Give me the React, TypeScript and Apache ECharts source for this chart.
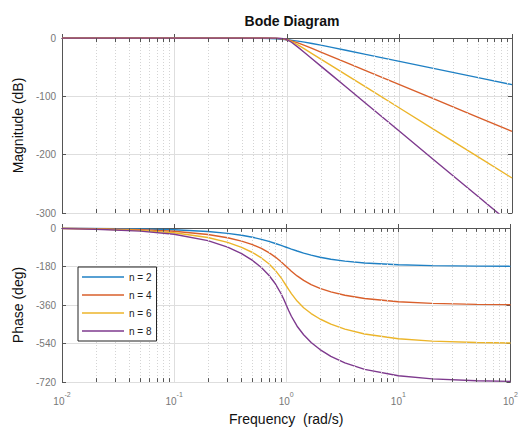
import React, { useEffect, useRef } from "react";
import * as echarts from "echarts";

// Frequencies (rad/s)
const freq = [0.01, 0.02, 0.05, 0.1, 0.2, 0.3, 0.4, 0.5, 0.6, 0.7, 0.8, 0.9, 0.95, 1, 1.053, 1.111, 1.25, 1.429, 1.667, 2, 2.5, 3.333, 5, 10, 20, 50, 100];

// Magnitude (dB)
const mag2 = [0, 0, 0, 0, -0.01, -0.03, -0.11, -0.26, -0.53, -0.93, -1.49, -2.19, -2.59, -3.01, -3.48, -4.02, -5.37, -7.13, -9.4, -12.3, -16.03, -20.95, -27.97, -40, -52.04, -67.96, -80];
const mag4 = [0, 0, 0, 0, 0, 0, 0, -0.02, -0.07, -0.24, -0.67, -1.56, -2.21, -3.01, -3.99, -5.22, -8.43, -12.64, -17.82, -24.1, -31.84, -41.83, -55.92, -80, -104.08, -135.92, -160];
const mag6 = [0, 0, 0, 0, 0, 0, 0, 0, -0.01, -0.06, -0.29, -1.08, -1.88, -3.01, -4.55, -6.57, -11.92, -18.65, -26.63, -36.12, -47.75, -62.75, -83.88, -120, -156.12, -203.88, -240];
const mag8 = [0, 0, 0, 0, 0, 0, 0, 0, 0, -0.01, -0.12, -0.74, -1.59, -3.01, -5.15, -8.08, -15.63, -24.8, -35.5, -48.16, -63.67, -83.66, -111.84, -160, -208.16, -271.84, -320];

// Phase (deg)
const ph2 = [-0.81, -1.62, -4.05, -8.13, -16.42, -24.99, -33.96, -43.31, -52.97, -62.74, -72.35, -81.51, -85.85, -90, -94.15, -98.49, -107.65, -117.26, -127.03, -136.69, -146.04, -155.01, -163.58, -171.87, -175.95, -178.38, -179.19];
const ph4 = [-1.5, -2.99, -7.49, -14.99, -30.11, -45.33, -61.38, -77.96, -95.66, -114.91, -135.86, -158.06, -169.18, -180, -190.82, -201.94, -224.14, -245.09, -264.34, -282.04, -298.62, -314.67, -329.89, -345.01, -352.51, -357.01, -358.5];
const ph6 = [-2.21, -4.43, -11.07, -22.17, -44.5, -67.16, -90.42, -114.52, -139.94, -167.47, -198.23, -233.08, -251.6, -270, -288.4, -306.92, -341.77, -372.53, -400.06, -425.48, -449.58, -472.84, -495.5, -517.83, -528.93, -535.57, -537.79];
const ph8 = [-2.94, -5.87, -14.68, -29.4, -59.02, -89.06, -119.83, -151.66, -185.01, -220.88, -260.82, -307.47, -333.45, -360, -386.55, -412.53, -459.18, -499.12, -534.99, -568.34, -600.17, -630.94, -660.98, -690.6, -705.32, -714.13, -717.06];

const seriesNames = ["n = 2", "n = 4", "n = 6", "n = 8"];
const magTicks = { min: -300, max: 0, interval: 100 };
const phaseTicks = { min: -720, max: 0, interval: 180 };
const decades = [0.01, 0.1, 1, 10];
const minorMultipliers = [2, 3, 4, 5, 6, 7, 8, 9];

const COLORS = ["#1f80c4", "#d95f2b", "#ecb52a", "#7e3a8e"];
const FONT = "'Liberation Sans', Arial, Helvetica, sans-serif";
const AXIS_COLOR = "#555555";

export default function App() {
  const ref = useRef<HTMLDivElement>(null);

  useEffect(() => {
    if (!ref.current) return;
    const chart = echarts.init(ref.current, undefined, { renderer: "svg" });

    const minorVals: number[] = [];
    decades.forEach((d) => minorMultipliers.forEach((m) => minorVals.push(+(d * m).toPrecision(6))));

    const mags = [mag2, mag4, mag6, mag8];
    const phs = [ph2, ph4, ph6, ph8];

    const xBase = (gridIndex: number, position: "top" | "bottom", labels: boolean, split: boolean) => ({
      type: "log",
      logBase: 10,
      gridIndex,
      position,
      min: 0.01,
      max: 100,
      axisLine: { show: true, lineStyle: { color: AXIS_COLOR, width: 1 } },
      axisTick: { show: true, inside: true, length: 4, lineStyle: { color: AXIS_COLOR } },
      axisLabel: labels
        ? {
            show: true,
            margin: 9,
            formatter: (v: number) => `{b|10}{s|${Math.round(Math.log10(v))}}`,
            rich: {
              b: { fontSize: 10, color: "#777", fontFamily: FONT, lineHeight: 15, verticalAlign: "bottom" },
              s: { fontSize: 7, color: "#777", fontFamily: FONT, lineHeight: 8, verticalAlign: "top" },
            },
          }
        : { show: false },
      splitLine: { show: split, lineStyle: { color: "#dedede", width: 1 } },
    });

    const yBase = (gridIndex: number, position: "left" | "right", t: any, name: string) => ({
      type: "value",
      gridIndex,
      position,
      min: t.min,
      max: t.max,
      interval: t.interval,
      name: name || undefined,
      nameLocation: "middle",
      nameGap: 36,
      nameTextStyle: { fontSize: 14, color: "#111", fontFamily: FONT },
      axisLine: { show: true, lineStyle: { color: AXIS_COLOR, width: 1 } },
      axisTick: { show: true, inside: true, length: 4, lineStyle: { color: AXIS_COLOR } },
      axisLabel: position === "left" ? { show: true, fontSize: 10, color: "#777", fontFamily: FONT, margin: 6 } : { show: false },
      splitLine: { show: position === "left", lineStyle: { color: "#dedede", width: 1 } },
    });

    const gridSeries = (xi: number, yi: number, t: any, tickLen: number) => ({
      type: "line",
      name: "_grid" + xi,
      xAxisIndex: xi,
      yAxisIndex: yi,
      data: [],
      silent: true,
      z: 1,
      markLine: {
        silent: true,
        symbol: ["none", "none"],
        label: { show: false },
        animation: false,
        data: [
          ...minorVals.map((v) => ({ xAxis: v, lineStyle: { type: [1, 2], color: "#d4d4d4", width: 1 } })),
          ...minorVals.map((v) => [
            { coord: [v, t.max], lineStyle: { type: "solid", color: AXIS_COLOR, width: 1 } },
            { coord: [v, t.max - tickLen] },
          ]),
          ...minorVals.map((v) => [
            { coord: [v, t.min], lineStyle: { type: "solid", color: AXIS_COLOR, width: 1 } },
            { coord: [v, t.min + tickLen] },
          ]),
        ],
      },
    });

    const curveSeries = (xi: number, yi: number, arrs: number[][]) =>
      arrs.map((arr, i) => ({
        type: "line",
        name: seriesNames[i],
        xAxisIndex: xi,
        yAxisIndex: yi,
        data: freq.map((f, k) => [f, arr[k]]),
        symbol: "none",
        smooth: false,
        clip: true,
        z: 3,
        color: COLORS[i],
        lineStyle: { color: COLORS[i], width: 1.4 },
      }));

    const option: any = {
      animation: false,
      backgroundColor: "#ffffff",
      textStyle: { fontFamily: FONT },
      title: {
        text: "Bode Diagram",
        left: 287,
        top: 9,
        textAlign: "center",
        textStyle: { fontSize: 14, fontWeight: "bold", color: "#111", fontFamily: FONT },
      },
      legend: {
        data: seriesNames,
        orient: "vertical",
        left: 78,
        top: 267,
        backgroundColor: "#ffffff",
        borderColor: "#222",
        borderWidth: 1,
        borderRadius: 0,
        padding: [3, 5, 3, 4],
        icon: "rect",
        itemWidth: 42,
        itemHeight: 1.5,
        itemGap: 4,
        textStyle: { fontSize: 10, lineHeight: 14, color: "#222", fontFamily: FONT },
        z: 10,
      },
      grid: [
        { left: 62, top: 38, width: 450, height: 175 },
        { left: 62, top: 228, width: 450, height: 154 },
      ],
      xAxis: [
        xBase(0, "bottom", false, true),
        xBase(0, "top", false, false),
        {
          ...xBase(1, "bottom", true, true),
          name: "Frequency  (rad/s)",
          nameLocation: "middle",
          nameGap: 30,
          nameTextStyle: { fontSize: 14, color: "#111", fontFamily: FONT },
        },
        xBase(1, "top", false, false),
      ],
      yAxis: [
        yBase(0, "left", magTicks, "Magnitude (dB)"),
        yBase(0, "right", magTicks, ""),
        yBase(1, "left", phaseTicks, "Phase (deg)"),
        yBase(1, "right", phaseTicks, ""),
      ],
      series: [
        gridSeries(0, 0, magTicks, 7),
        gridSeries(2, 2, phaseTicks, 18),
        ...curveSeries(0, 0, mags),
        ...curveSeries(2, 2, phs),
      ],
    };

    chart.setOption(option);
    return () => chart.dispose();
  }, []);

  return <div ref={ref} style={{ position: "fixed", left: 0, top: 0, width: 521, height: 431 }} />;
}
